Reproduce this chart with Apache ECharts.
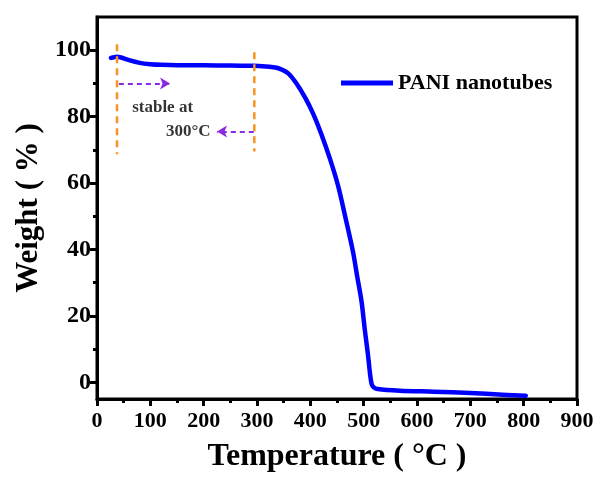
<!DOCTYPE html>
<html>
<head>
<meta charset="utf-8">
<script src="https://cdn.jsdelivr.net/npm/echarts@6/dist/echarts.min.js"></script>
<style>
html,body{margin:0;padding:0;background:#fff;}
#c{width:598px;height:478px;}
</style>
</head>
<body>
<div id="c"></div>
<script>
// ---- data ----
var temps = [26, 32, 37, 45, 60, 80, 100, 121, 150, 200, 250, 290, 310, 334, 343, 358, 374, 390, 405, 420, 437, 452, 466, 480, 488, 496, 502, 506, 509, 512, 515, 519, 526, 568, 631, 700, 760, 804];
var weights = [97.7, 97.9, 98.0, 97.8, 97.0, 96.2, 95.8, 95.6, 95.5, 95.5, 95.4, 95.3, 95.2, 94.8, 94.4, 93.1, 90.0, 85.8, 81.0, 75.0, 67.2, 59.2, 49.5, 39.3, 31.8, 24.4, 16.0, 11.0, 7.0, 2.5, -0.5, -1.5, -2.0, -2.5, -2.8, -3.2, -3.7, -4.0];
var seriesName = 'PANI nanotubes';

var xTicks = [0, 100, 200, 300, 400, 500, 600, 700, 800, 900];
var yTicks = [0, 20, 40, 60, 80, 100];
var yMinorTicks = [10, 30, 50, 70, 90];

// annotation guides (data coordinates)
var guide1X = [37.5, 37.5], guide1Y = [101.8, 68.7];
var guide2X = [295, 295], guide2Y = [99.4, 69.5];
var arrow1From = [41, 90], arrow1To = [137, 90];
var arrow2From = [294, 75.5], arrow2To = [225, 75.5];
var noteTexts = ['stable at', '300°C'];
var notePos = [[123, 82.7], [171, 75.4]];

var FONT = '"Liberation Serif", "Times New Roman", serif';

var chart = echarts.init(document.getElementById('c'), null, {renderer: 'canvas'});

function zip(a, b) { return a.map(function (v, i) { return [v, b[i]]; }); }

var option = {
  animation: false,
  backgroundColor: '#fff',
  grid: {left: 97, right: 21, top: 17, bottom: 76, show: true, borderColor: '#000', borderWidth: 3, backgroundColor: 'transparent'},
  legend: {
    data: [{name: seriesName, icon: 'rect'}],
    left: 341, top: 72, padding: 0,
    itemWidth: 52, itemHeight: 5, itemGap: 5,
    textStyle: {fontFamily: FONT, fontWeight: 'bold', fontSize: 22, color: '#000'}
  },
  xAxis: {
    type: 'value', min: 0, max: 900, interval: 100,
    name: 'Temperature ( °C )', nameLocation: 'middle', nameGap: 42,
    nameTextStyle: {fontFamily: FONT, fontWeight: 'bold', fontSize: 32, color: '#000'},
    axisLine: {show: true, onZero: false, lineStyle: {color: '#000', width: 3}},
    axisTick: {show: true, inside: false, length: 7, lineStyle: {color: '#000', width: 3}},
    minorTick: {show: true, splitNumber: 2, length: 4, lineStyle: {color: '#000', width: 3}},
    splitLine: {show: false},
    axisLabel: {margin: 11, fontFamily: FONT, fontWeight: 'bold', fontSize: 22, color: '#000'}
  },
  yAxis: [{
    type: 'value', min: -5, max: 110,
    name: 'Weight ( % )', nameLocation: 'middle', nameGap: 52, nameRotate: 90,
    nameTextStyle: {fontFamily: FONT, fontWeight: 'bold', fontSize: 31, color: '#000'},
    axisLine: {show: true, onZero: false, lineStyle: {color: '#000', width: 3}},
    axisTick: {show: true, length: 7, customValues: yTicks, lineStyle: {color: '#000', width: 3}},
    splitLine: {show: false},
    axisLabel: {margin: 6, customValues: yTicks, fontFamily: FONT, fontWeight: 'bold', fontSize: 24, color: '#000'}
  }, {
    type: 'value', min: -5, max: 110, position: 'left',
    axisLine: {show: false, onZero: false},
    axisTick: {show: true, length: 4, customValues: yMinorTicks, lineStyle: {color: '#000', width: 3}},
    splitLine: {show: false},
    axisLabel: {show: false}
  }],
  series: [
    {
      name: seriesName, type: 'line', data: zip(temps, weights),
      symbol: 'none', smooth: 0.3,
      lineStyle: {color: '#0000ff', width: 4.5, cap: 'round', join: 'round'},
      itemStyle: {color: '#0000ff'}, z: 5
    },
    {
      name: 'g1', type: 'line', data: zip(guide1X, guide1Y), symbol: 'none', silent: true,
      lineStyle: {color: '#f7931e', width: 2.5, type: [7, 5]}, z: 6
    },
    {
      name: 'g2', type: 'line', data: zip(guide2X, guide2Y), symbol: 'none', silent: true,
      lineStyle: {color: '#f7931e', width: 2.5, type: [7, 5]}, z: 6
    },
    {
      name: 'arrows', type: 'line', data: [], symbol: 'none', silent: true,
      markLine: {
        silent: true, animation: false,
        symbol: ['none', 'arrow'], symbolSize: [9, 10],
        label: {show: false},
        lineStyle: {color: '#8a2be2', width: 2, type: [5, 4]},
        data: [
          [{coord: arrow1From}, {coord: arrow1To}],
          [{coord: arrow2From}, {coord: arrow2To}]
        ]
      }
    },
    {
      name: 'notes', type: 'scatter', silent: true, symbolSize: 1,
      itemStyle: {color: 'rgba(0,0,0,0)'},
      data: notePos.map(function (p, i) { return {value: p, name: noteTexts[i]}; }),
      label: {
        show: true, position: 'inside', formatter: function (p) { return p.name; },
        fontFamily: FONT, fontWeight: 'bold', fontSize: 17, color: '#000', align: 'center', verticalAlign: 'middle'
      }
    }
  ]
};
chart.setOption(option);
</script>
</body>
</html>
